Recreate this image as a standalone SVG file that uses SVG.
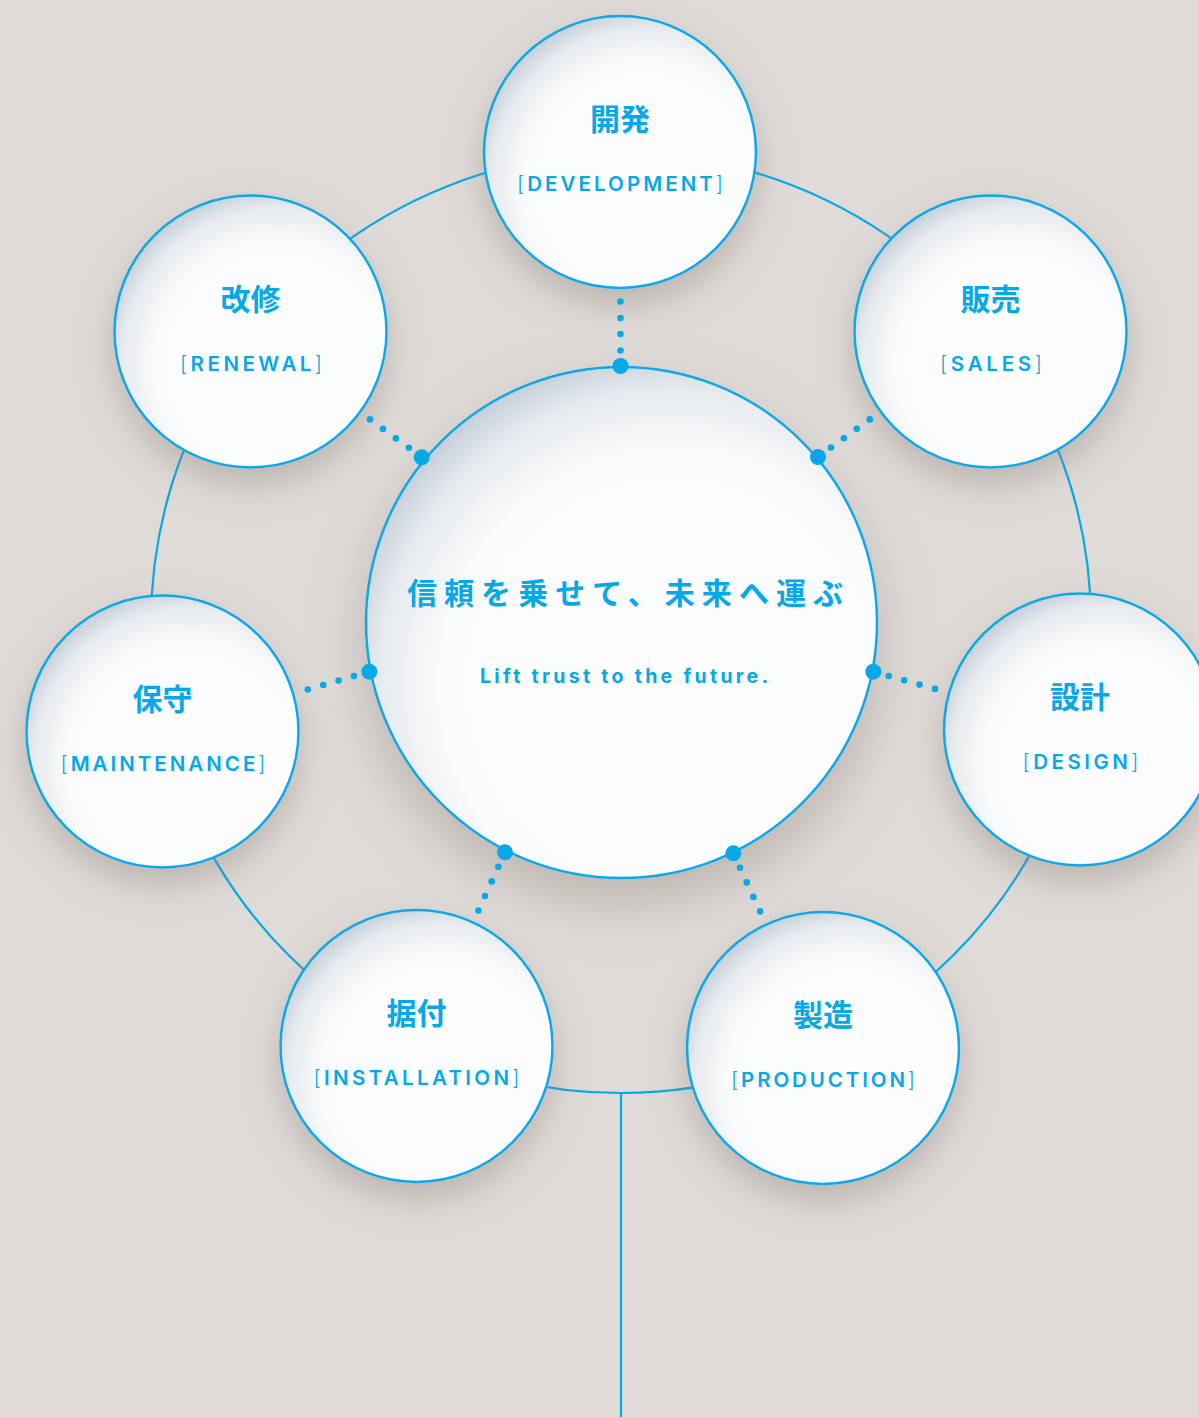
<svg xmlns="http://www.w3.org/2000/svg" width="1199" height="1417" viewBox="0 0 1199 1417">
  <defs>
    <radialGradient id="ball" cx="0.6" cy="0.62" r="0.66" fx="0.6" fy="0.62">
      <stop offset="0" stop-color="#fdfdfe"/>
      <stop offset="0.68" stop-color="#fafbfc"/>
      <stop offset="0.87" stop-color="#e7ebef"/>
      <stop offset="1" stop-color="#c3cdd8"/>
    </radialGradient>
    <filter id="shadow" x="-40%" y="-40%" width="180%" height="190%">
      <feDropShadow dx="0" dy="16" stdDeviation="18" flood-color="#8a8078" flood-opacity="0.42"/>
    </filter>
    <filter id="shadowBig" x="-40%" y="-40%" width="180%" height="190%">
      <feDropShadow dx="0" dy="24" stdDeviation="28" flood-color="#8a8078" flood-opacity="0.42"/>
    </filter>
    <style>
      .ring{fill:none;stroke:#07a8e8;stroke-width:2.2}
      .node{fill:url(#ball);stroke:#07a8e8;stroke-width:2.5;filter:url(#shadow)}
      .center{fill:url(#ball);stroke:#07a8e8;stroke-width:2.5;filter:url(#shadowBig)}
      .jp{font-family:"Noto Sans CJK JP","Noto Sans",sans-serif;font-weight:700;font-size:30px;fill:#07a8e8;text-anchor:middle}
      .en{font-family:Inter,"Noto Sans",sans-serif;font-weight:600;font-size:20.5px;fill:#07a8e8;text-anchor:middle}
      .br{font-weight:300}
      .head{font-family:"Noto Sans CJK JP",sans-serif;font-weight:700;font-size:30px;fill:#07a8e8;text-anchor:middle}
      .sub{font-family:Inter,"Noto Sans",sans-serif;font-weight:700;font-size:19.5px;fill:#07a8e8;text-anchor:middle}
      .dot{fill:#07a8e8}
    </style>
  </defs>
  <rect width="1199" height="1417" fill="#dfdbd8"/>

  <g id="ring">
    <circle class="ring" cx="621" cy="623" r="470"/>
    <line class="ring" x1="621" y1="1093" x2="621" y2="1417" stroke-width="2.6"/>
  </g>

  <g id="center">
    <circle class="center" cx="621.5" cy="622.5" r="255.5"/>
    <text class="head" x="625" y="604" textLength="436" lengthAdjust="spacing">信頼を乗せて、未来へ運ぶ</text>
    <text class="sub" x="624" y="683" textLength="288" lengthAdjust="spacing">Lift trust to the future.</text>
  </g>

  <g id="node-development">
    <circle class="node" cx="620" cy="152" r="136"/>
    <text class="jp" x="620" y="130">開発</text>
    <text class="en" x="620" y="191" textLength="206" lengthAdjust="spacing"><tspan class="br">[</tspan>DEVELOPMENT<tspan class="br">]</tspan></text>
  </g>
  <g id="node-sales">
    <circle class="node" cx="990.5" cy="331.5" r="136"/>
    <text class="jp" x="990.5" y="310">販売</text>
    <text class="en" x="991" y="371" textLength="102" lengthAdjust="spacing"><tspan class="br">[</tspan>SALES<tspan class="br">]</tspan></text>
  </g>
  <g id="node-design">
    <circle class="node" cx="1080" cy="729.5" r="136"/>
    <text class="jp" x="1080" y="708">設計</text>
    <text class="en" x="1080.5" y="769" textLength="116" lengthAdjust="spacing"><tspan class="br">[</tspan>DESIGN<tspan class="br">]</tspan></text>
  </g>
  <g id="node-production">
    <circle class="node" cx="823" cy="1048" r="136"/>
    <text class="jp" x="823" y="1026">製造</text>
    <text class="en" x="823" y="1087" textLength="184" lengthAdjust="spacing"><tspan class="br">[</tspan>PRODUCTION<tspan class="br">]</tspan></text>
  </g>
  <g id="node-installation">
    <circle class="node" cx="416.5" cy="1046" r="136"/>
    <text class="jp" x="416.5" y="1024">据付</text>
    <text class="en" x="416.5" y="1085" textLength="206" lengthAdjust="spacing"><tspan class="br">[</tspan>INSTALLATION<tspan class="br">]</tspan></text>
  </g>
  <g id="node-maintenance">
    <circle class="node" cx="162.5" cy="731.5" r="136"/>
    <text class="jp" x="162.5" y="710">保守</text>
    <text class="en" x="163" y="771" textLength="205" lengthAdjust="spacing"><tspan class="br">[</tspan>MAINTENANCE<tspan class="br">]</tspan></text>
  </g>
  <g id="node-renewal">
    <circle class="node" cx="250.5" cy="331.5" r="136"/>
    <text class="jp" x="250.5" y="310">改修</text>
    <text class="en" x="251" y="371" textLength="142" lengthAdjust="spacing"><tspan class="br">[</tspan>RENEWAL<tspan class="br">]</tspan></text>
  </g>

  <g id="connectors">
    <g id="conn-development">
      <circle class="dot" cx="620.5" cy="366" r="8"/>
      <circle class="dot" cx="620.5" cy="350.5" r="3.3"/>
      <circle class="dot" cx="620.5" cy="334" r="3.3"/>
      <circle class="dot" cx="620.5" cy="318" r="3.3"/>
      <circle class="dot" cx="620.5" cy="301.5" r="3.3"/>
    </g>
    <g id="conn-sales">
      <circle class="dot" cx="818" cy="457" r="8"/>
      <circle class="dot" cx="831" cy="447.6" r="3.3"/>
      <circle class="dot" cx="843.9" cy="438.2" r="3.3"/>
      <circle class="dot" cx="856.8" cy="428.8" r="3.3"/>
      <circle class="dot" cx="869.8" cy="419.4" r="3.3"/>
    </g>
    <g id="conn-design">
      <circle class="dot" cx="873.3" cy="671.7" r="8"/>
      <circle class="dot" cx="888.7" cy="676" r="3.3"/>
      <circle class="dot" cx="904.1" cy="680.3" r="3.3"/>
      <circle class="dot" cx="919.5" cy="684.6" r="3.3"/>
      <circle class="dot" cx="935" cy="688.9" r="3.3"/>
    </g>
    <g id="conn-production">
      <circle class="dot" cx="733.3" cy="853.3" r="8"/>
      <circle class="dot" cx="740" cy="867.8" r="3.3"/>
      <circle class="dot" cx="746.7" cy="882.4" r="3.3"/>
      <circle class="dot" cx="753.4" cy="896.9" r="3.3"/>
      <circle class="dot" cx="760.1" cy="911.4" r="3.3"/>
    </g>
    <g id="conn-installation">
      <circle class="dot" cx="505" cy="852.3" r="8"/>
      <circle class="dot" cx="498.4" cy="866.8" r="3.3"/>
      <circle class="dot" cx="491.7" cy="881.4" r="3.3"/>
      <circle class="dot" cx="485" cy="896" r="3.3"/>
      <circle class="dot" cx="478.4" cy="910.5" r="3.3"/>
    </g>
    <g id="conn-maintenance">
      <circle class="dot" cx="369.3" cy="671.7" r="8"/>
      <circle class="dot" cx="354" cy="676.1" r="3.3"/>
      <circle class="dot" cx="338.6" cy="680.6" r="3.3"/>
      <circle class="dot" cx="323.2" cy="685" r="3.3"/>
      <circle class="dot" cx="307.8" cy="689.5" r="3.3"/>
    </g>
    <g id="conn-renewal">
      <circle class="dot" cx="421.7" cy="457.3" r="8"/>
      <circle class="dot" cx="408.8" cy="447.8" r="3.3"/>
      <circle class="dot" cx="395.9" cy="438.4" r="3.3"/>
      <circle class="dot" cx="383" cy="428.9" r="3.3"/>
      <circle class="dot" cx="370.1" cy="419.4" r="3.3"/>
    </g>
  </g>
</svg>
